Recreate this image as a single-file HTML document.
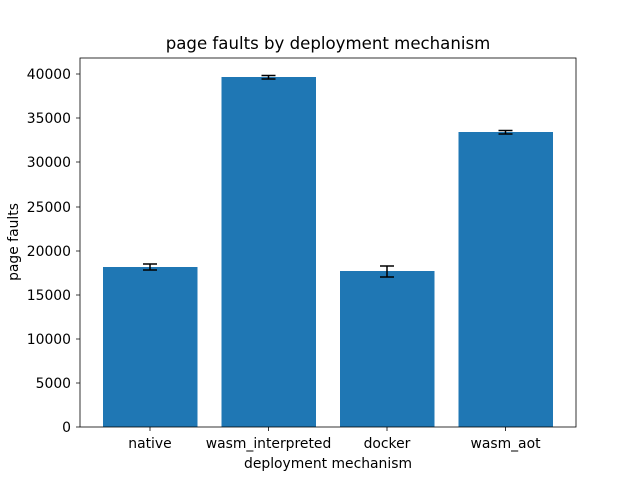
<!DOCTYPE html>
<html><head><style>body{margin:0;background:#fff}svg{display:block}text{font-family:"DejaVu Sans","Liberation Sans",sans-serif;fill:#000}</style></head>
<body>
<svg width="640" height="480" xmlns="http://www.w3.org/2000/svg">
<rect width="640" height="480" fill="#fff"/>
<text x="328" y="49" font-size="16.6" text-anchor="middle">page faults by deployment mechanism</text>
<g fill="#1f77b4">
<rect x="103" y="267" width="94.5" height="160"/>
<rect x="221.5" y="77" width="94.5" height="350"/>
<rect x="340" y="271" width="94.5" height="156"/>
<rect x="458.5" y="132" width="94.5" height="295"/>
</g>
<g stroke="#000" stroke-width="1.5" fill="none">
<path d="M150 264V270M143 264H157M143 270H157"/>
<path d="M268.5 75.5V79M261.5 75.5H275.5M261.5 79H275.5"/>
<path d="M387 266V277M380 266H394M380 277H394"/>
<path d="M505.5 130.5V134M498.5 130.5H512.5M498.5 134H512.5"/>
</g>
<rect x="80" y="58" width="496" height="369" fill="none" stroke="#000" stroke-width="0.8"/>
<g stroke="#000" stroke-width="0.8">
<path d="M150 427v4M268.5 427v4M387 427v4M505.5 427v4"/>
<path d="M80 427h-4M80 383h-4M80 339h-4M80 295h-4M80 251h-4M80 207h-4M80 162h-4M80 118h-4M80 74h-4"/>
</g>
<g font-size="13.9" text-anchor="middle">
<text x="150" y="448">native</text>
<text x="268.5" y="448">wasm_interpreted</text>
<text x="387" y="448">docker</text>
<text x="505.5" y="448">wasm_aot</text>
<text x="328" y="468">deployment mechanism</text>
</g>
<g font-size="13.9" text-anchor="end">
<text x="71" y="432">0</text>
<text x="71" y="388">5000</text>
<text x="71" y="344">10000</text>
<text x="71" y="300">15000</text>
<text x="71" y="256">20000</text>
<text x="71" y="212">25000</text>
<text x="71" y="167">30000</text>
<text x="71" y="123">35000</text>
<text x="71" y="79">40000</text>
</g>
<text x="18" y="242" font-size="13.9" text-anchor="middle" transform="rotate(-90 18 242)">page faults</text>
</svg>
</body></html>
